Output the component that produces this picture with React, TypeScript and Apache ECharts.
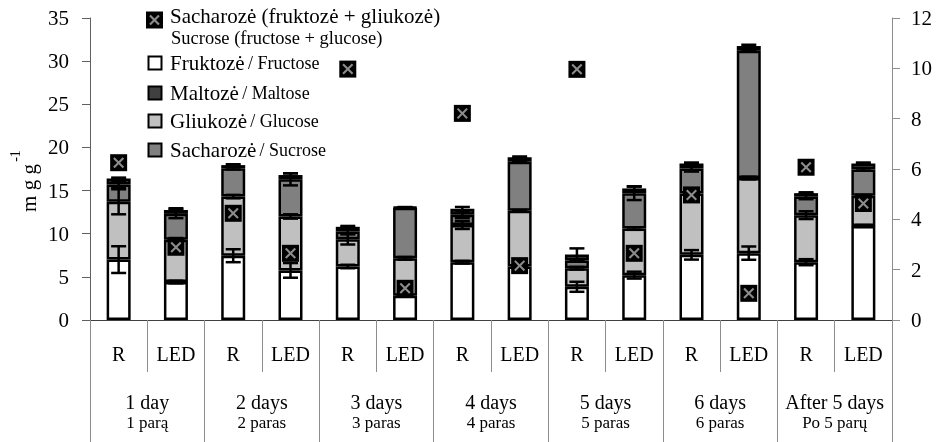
import React, { useEffect, useRef } from 'react';
import * as echarts from 'echarts';

const FONT = '"Liberation Serif", "Times New Roman", Times, serif';

const categories = ['R', 'LED', 'R', 'LED', 'R', 'LED', 'R', 'LED', 'R', 'LED', 'R', 'LED', 'R', 'LED'];
const groupsEN = ['1 day', '2 days', '3 days', '4 days', '5 days', '6 days', 'After 5 days'];
const groupsLT = ['1 parą', '2 paras', '3 paras', '4 paras', '5 paras', '6 paras', 'Po 5 parų'];

// mg g-1, left axis (stacked)
const fructose = [7.0, 4.4, 7.45, 5.75, 6.2, 2.8, 6.7, 6.2, 3.85, 5.2, 7.55, 7.75, 6.7, 10.9];
const glucose = [6.7, 4.9, 6.85, 6.25, 3.15, 4.35, 4.3, 6.45, 2.15, 5.4, 7.1, 8.7, 5.45, 3.5];
const sucrose = [2.0, 3.0, 3.3, 4.3, 0.9, 5.85, 1.2, 5.7, 0.9, 4.1, 2.9, 14.75, 2.15, 3.05];
const maltose = [0.7, 0.45, 0.35, 0.5, 0.55, 0.08, 0.7, 0.5, 0.7, 0.55, 0.6, 0.55, 0.4, 0.7];

// error bars (±)
const fructoseErr = [1.55, 0.15, 0.75, 0.85, 0.2, 0.1, 0.15, 0.1, 0.58, 0.4, 0.55, 0.77, 0.35, 0.1];
const glucoseErr = [1.45, 0.2, 0.2, 0.25, 0.6, 0.15, 0.45, 0.1, 0.15, 0.15, 0.1, 0.15, 0.45, 0.1];
const sucroseErr = [0.35, 0.5, 0.15, 0.7, 0.3, 0.0, 0.4, 0.1, 0.15, 0.8, 0.35, 0.1, 0.3, 0.15];
const maltoseErr = [0.1, 0.2, 0.1, 0.2, 0.1, 0.0, 0.2, 0.1, 0.7, 0.2, 0.1, 0.15, 0.1, 0.1];

// right axis: Sacharozė (fruktozė + gliukozė)
const sucroseSum = [6.25, 2.89, 4.24, 2.65, 9.97, 1.26, 8.21, 2.16, 9.96, 2.65, 4.97, 1.06, 6.07, 4.63];

const leftAxis = { min: 0, max: 35, interval: 5 };
const rightAxis = { min: 0, max: 12, interval: 2 };

const X_PATH =
  'path://M0,1.6L1.6,0L6,4.4L10.4,0L12,1.6L7.6,6L12,10.4L10.4,12L6,7.6L1.6,12L0,10.4L4.4,6Z';

function errSeries(name: string, tops: number[], errs: number[]) {
  return {
    type: 'custom',
    name,
    xAxisIndex: 0,
    yAxisIndex: 0,
    z: 5,
    silent: true,
    data: tops.map((t, i) => [i, t, errs[i]]),
    encode: { x: 0, y: 1 },
    renderItem: (_p: any, api: any) => {
      const i = api.value(0);
      const t = api.value(1);
      const e = api.value(2);
      const hi = api.coord([i, t + e]);
      const lo = api.coord([i, t - e]);
      const x = hi[0];
      const w = 7.5;
      const style = { stroke: '#000', lineWidth: 2.5 };
      return {
        type: 'group',
        children: [
          { type: 'line', shape: { x1: x, y1: hi[1], x2: x, y2: lo[1] }, style },
          { type: 'line', shape: { x1: x - w, y1: hi[1], x2: x + w, y2: hi[1] }, style },
          { type: 'line', shape: { x1: x - w, y1: lo[1], x2: x + w, y2: lo[1] }, style },
        ],
      };
    },
  };
}

export default function App() {
  const ref = useRef<HTMLDivElement>(null);
  useEffect(() => {
    const chart = echarts.init(ref.current!, null, { renderer: 'svg' });
    const fTop = fructose.slice();
    const gTop = fTop.map((v, i) => v + glucose[i]);
    const sTop = gTop.map((v, i) => v + sucrose[i]);
    const mTop = sTop.map((v, i) => v + maltose[i]);

    const barBase = {
      type: 'bar',
      stack: 'sugars',
      barWidth: 24,
      xAxisIndex: 0,
      yAxisIndex: 0,
      z: 2,
    };
    const txt = (size: number) => ({ fontSize: size, fontFamily: FONT, fill: '#000' });

    const legendRow = (y: number, fill: string, lt: string, en: string) => [
      {
        type: 'rect',
        shape: { x: 148.5, y: y - 6.5, width: 13, height: 13 },
        style: { fill, stroke: '#000', lineWidth: 2 },
      },
      {
        type: 'text',
        x: 170,
        y,
        style: {
          text: `{a|${lt}} {b|/ ${en}}`,
          verticalAlign: 'middle',
          rich: { a: txt(21), b: txt(18) },
        },
      },
    ];

    chart.setOption({
      animation: false,
      textStyle: { fontFamily: FONT },
      grid: { left: 90, right: 46, top: 18, bottom: 122, containLabel: false },
      xAxis: [
        {
          type: 'category',
          data: categories,
          position: 'bottom',
          axisLine: { lineStyle: { color: '#404040', width: 1 } },
          axisTick: { show: true, length: 52, lineStyle: { color: '#8c8c8c' } },
          axisLabel: { color: '#000', fontSize: 20, fontFamily: FONT, margin: 24, interval: 0 },
          splitLine: { show: false },
        },
        {
          type: 'category',
          data: groupsEN,
          position: 'bottom',
          axisLine: { show: false },
          axisTick: { show: true, length: 122, lineStyle: { color: '#8c8c8c' } },
          axisLabel: {
            margin: 71,
            interval: 0,
            formatter: (v: string, i: number) => `{a|${v}}\n{b|${groupsLT[i]}}`,
            rich: {
              a: { fontSize: 20, fontFamily: FONT, color: '#000', lineHeight: 22 },
              b: { fontSize: 17, fontFamily: FONT, color: '#000', lineHeight: 18 },
            },
          },
          splitLine: { show: false },
        },
      ],
      yAxis: [
        {
          type: 'value',
          ...leftAxis,
          axisLine: { show: true, lineStyle: { color: '#606060' } },
          axisTick: { show: true, length: 8, lineStyle: { color: '#606060' } },
          axisLabel: { color: '#000', fontSize: 21, fontFamily: FONT, margin: 21 },
          splitLine: { show: false },
        },
        {
          type: 'value',
          position: 'right',
          ...rightAxis,
          axisLine: { show: true, lineStyle: { color: '#8c8c8c' } },
          axisTick: { show: true, length: 8, lineStyle: { color: '#8c8c8c' } },
          axisLabel: { color: '#000', fontSize: 21, fontFamily: FONT, margin: 19 },
          splitLine: { show: false },
        },
      ],
      series: [
        { ...barBase, name: 'Fruktozė', data: fructose, itemStyle: { color: '#ffffff', borderColor: '#000', borderWidth: 2.5 } },
        { ...barBase, name: 'Gliukozė', data: glucose, itemStyle: { color: '#c0c0c0', borderColor: '#000', borderWidth: 2.5 } },
        { ...barBase, name: 'Sacharozė', data: sucrose, itemStyle: { color: '#808080', borderColor: '#000', borderWidth: 2.5 } },
        { ...barBase, name: 'Maltozė', data: maltose, itemStyle: { color: '#333333', borderColor: '#000', borderWidth: 2.5 } },
        errSeries('errF', fTop, fructoseErr),
        errSeries('errG', gTop, glucoseErr),
        errSeries('errS', sTop, sucroseErr),
        errSeries('errM', mTop, maltoseErr),
        {
          type: 'scatter',
          name: 'Sacharozė (fruktozė + gliukozė)',
          xAxisIndex: 0,
          yAxisIndex: 1,
          data: sucroseSum,
          symbol: 'rect',
          symbolSize: 17,
          itemStyle: { color: '#000', opacity: 1 },
          z: 8,
          silent: true,
        },
        {
          type: 'scatter',
          name: 'x',
          xAxisIndex: 0,
          yAxisIndex: 1,
          data: sucroseSum,
          symbol: X_PATH,
          symbolSize: 11,
          itemStyle: { color: '#8c8c8c', opacity: 1 },
          z: 9,
          silent: true,
        },
      ],
      graphic: [
        // y-axis name
        {
          type: 'text',
          x: 29,
          y: 188,
          rotation: Math.PI / 2,
          style: { text: 'm g g', align: 'center', verticalAlign: 'middle', ...txt(21) },
        },
        {
          type: 'text',
          x: 15.5,
          y: 156,
          rotation: Math.PI / 2,
          style: { text: '-1', align: 'center', verticalAlign: 'middle', ...txt(14) },
        },
        // legend
        { type: 'rect', shape: { x: 146, y: 11.5, width: 17, height: 17 }, style: { fill: '#000' } },
        { type: 'line', shape: { x1: 150, y1: 15.5, x2: 159, y2: 24.5 }, style: { stroke: '#8c8c8c', lineWidth: 2.2 } },
        { type: 'line', shape: { x1: 159, y1: 15.5, x2: 150, y2: 24.5 }, style: { stroke: '#8c8c8c', lineWidth: 2.2 } },
        {
          type: 'text',
          x: 170,
          y: 16,
          style: { text: 'Sacharozė (fruktozė + gliukozė)', verticalAlign: 'middle', ...txt(21) },
        },
        {
          type: 'text',
          x: 171,
          y: 38,
          style: { text: 'Sucrose (fructose + glucose)', verticalAlign: 'middle', ...txt(18.5) },
        },
        ...legendRow(63, '#ffffff', 'Fruktozė', 'Fructose'),
        ...legendRow(93, '#404040', 'Maltozė', 'Maltose'),
        ...legendRow(121, '#c0c0c0', 'Gliukozė', 'Glucose'),
        ...legendRow(150, '#808080', 'Sacharozė', 'Sucrose'),
      ],
    });
    return () => chart.dispose();
  }, []);
  return <div ref={ref} style={{ position: 'fixed', left: 0, top: 0, width: 938, height: 442 }} />;
}
